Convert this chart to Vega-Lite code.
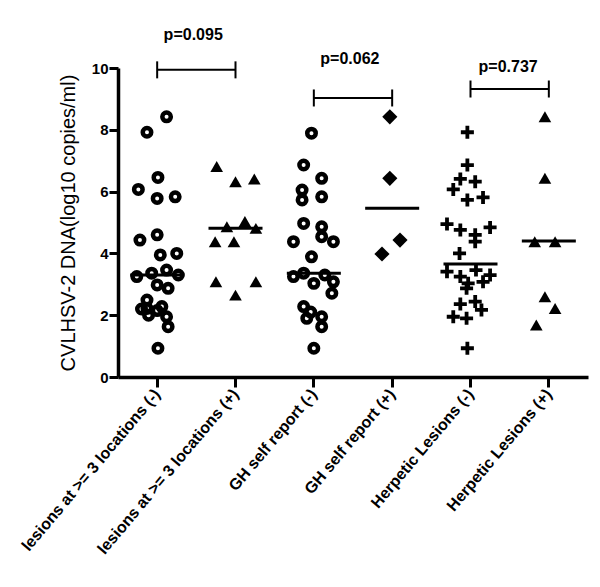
{
  "$schema": "https://vega.github.io/schema/vega-lite/v6.json",
  "autosize": {"type": "none"},
  "padding": {"left": 118, "top": 68, "right": 12, "bottom": 210},
  "width": 470,
  "height": 309,
  "background": "white",
  "config": {
    "view": {"stroke": null},
    "font": "Liberation Sans",
    "axis": {
      "grid": false,
      "domainColor": "black",
      "domainWidth": 3.5,
      "tickColor": "black",
      "tickWidth": 3,
      "labelFont": "Liberation Sans",
      "labelFontWeight": "bold",
      "labelColor": "black",
      "titleFont": "Liberation Sans",
      "titleColor": "black"
    }
  },
  "datasets": {
    "points": [
      {"group": "lesions at >= 3 locations (-)", "dx": 0.12, "v": 8.42},
      {"group": "lesions at >= 3 locations (-)", "dx": -0.13, "v": 7.92},
      {"group": "lesions at >= 3 locations (-)", "dx": 0.01, "v": 6.46},
      {"group": "lesions at >= 3 locations (-)", "dx": -0.24, "v": 6.07},
      {"group": "lesions at >= 3 locations (-)", "dx": 0.0, "v": 5.78},
      {"group": "lesions at >= 3 locations (-)", "dx": 0.23, "v": 5.83},
      {"group": "lesions at >= 3 locations (-)", "dx": -0.22, "v": 4.43},
      {"group": "lesions at >= 3 locations (-)", "dx": 0.0, "v": 4.6},
      {"group": "lesions at >= 3 locations (-)", "dx": 0.04, "v": 3.95},
      {"group": "lesions at >= 3 locations (-)", "dx": 0.25, "v": 4.0},
      {"group": "lesions at >= 3 locations (-)", "dx": -0.26, "v": 3.25},
      {"group": "lesions at >= 3 locations (-)", "dx": -0.07, "v": 3.36},
      {"group": "lesions at >= 3 locations (-)", "dx": 0.12, "v": 3.46},
      {"group": "lesions at >= 3 locations (-)", "dx": 0.27, "v": 3.3},
      {"group": "lesions at >= 3 locations (-)", "dx": 0.0, "v": 2.98},
      {"group": "lesions at >= 3 locations (-)", "dx": 0.14, "v": 2.87},
      {"group": "lesions at >= 3 locations (-)", "dx": -0.13, "v": 2.49},
      {"group": "lesions at >= 3 locations (-)", "dx": -0.13, "v": 2.22},
      {"group": "lesions at >= 3 locations (-)", "dx": -0.11, "v": 2.0},
      {"group": "lesions at >= 3 locations (-)", "dx": 0.06, "v": 2.28},
      {"group": "lesions at >= 3 locations (-)", "dx": 0.12, "v": 1.95},
      {"group": "lesions at >= 3 locations (-)", "dx": 0.14, "v": 1.63},
      {"group": "lesions at >= 3 locations (-)", "dx": -0.2, "v": 2.2},
      {"group": "lesions at >= 3 locations (-)", "dx": 0.0, "v": 2.15},
      {"group": "lesions at >= 3 locations (-)", "dx": 0.01, "v": 0.93},
      {"group": "lesions at >= 3 locations (+)", "dx": -0.24, "v": 6.81},
      {"group": "lesions at >= 3 locations (+)", "dx": 0.0, "v": 6.32},
      {"group": "lesions at >= 3 locations (+)", "dx": 0.24, "v": 6.41},
      {"group": "lesions at >= 3 locations (+)", "dx": -0.11, "v": 4.86},
      {"group": "lesions at >= 3 locations (+)", "dx": 0.12, "v": 5.03},
      {"group": "lesions at >= 3 locations (+)", "dx": 0.26, "v": 4.81},
      {"group": "lesions at >= 3 locations (+)", "dx": -0.26, "v": 4.38},
      {"group": "lesions at >= 3 locations (+)", "dx": -0.02, "v": 4.38},
      {"group": "lesions at >= 3 locations (+)", "dx": -0.25, "v": 3.08},
      {"group": "lesions at >= 3 locations (+)", "dx": 0.26, "v": 3.08},
      {"group": "lesions at >= 3 locations (+)", "dx": 0.0, "v": 2.65},
      {"group": "GH self report (-)", "dx": -0.03, "v": 7.89},
      {"group": "GH self report (-)", "dx": -0.13, "v": 6.86},
      {"group": "GH self report (-)", "dx": 0.1, "v": 6.43},
      {"group": "GH self report (-)", "dx": -0.15, "v": 6.05},
      {"group": "GH self report (-)", "dx": 0.1, "v": 5.83},
      {"group": "GH self report (-)", "dx": -0.15, "v": 5.73},
      {"group": "GH self report (-)", "dx": -0.13, "v": 4.97},
      {"group": "GH self report (-)", "dx": 0.1, "v": 4.86},
      {"group": "GH self report (-)", "dx": -0.26, "v": 4.38},
      {"group": "GH self report (-)", "dx": 0.1, "v": 4.54},
      {"group": "GH self report (-)", "dx": 0.25, "v": 4.38},
      {"group": "GH self report (-)", "dx": -0.03, "v": 3.89},
      {"group": "GH self report (-)", "dx": -0.26, "v": 3.25},
      {"group": "GH self report (-)", "dx": -0.13, "v": 3.36},
      {"group": "GH self report (-)", "dx": 0.0, "v": 3.03},
      {"group": "GH self report (-)", "dx": 0.25, "v": 3.08},
      {"group": "GH self report (-)", "dx": 0.14, "v": 3.3},
      {"group": "GH self report (-)", "dx": 0.23, "v": 2.71},
      {"group": "GH self report (-)", "dx": -0.13, "v": 2.28},
      {"group": "GH self report (-)", "dx": -0.04, "v": 2.1},
      {"group": "GH self report (-)", "dx": -0.09, "v": 1.9},
      {"group": "GH self report (-)", "dx": 0.1, "v": 1.95},
      {"group": "GH self report (-)", "dx": 0.1, "v": 1.63},
      {"group": "GH self report (-)", "dx": 0.0, "v": 0.93},
      {"group": "GH self report (+)", "dx": -0.03, "v": 8.42},
      {"group": "GH self report (+)", "dx": -0.03, "v": 6.43},
      {"group": "GH self report (+)", "dx": 0.1, "v": 4.43},
      {"group": "GH self report (+)", "dx": -0.13, "v": 3.98},
      {"group": "Herpetic Lesions (-)", "dx": -0.04, "v": 7.92},
      {"group": "Herpetic Lesions (-)", "dx": -0.04, "v": 6.86},
      {"group": "Herpetic Lesions (-)", "dx": -0.13, "v": 6.41},
      {"group": "Herpetic Lesions (-)", "dx": 0.06, "v": 6.32},
      {"group": "Herpetic Lesions (-)", "dx": -0.22, "v": 6.07},
      {"group": "Herpetic Lesions (-)", "dx": -0.04, "v": 5.73},
      {"group": "Herpetic Lesions (-)", "dx": 0.16, "v": 5.81},
      {"group": "Herpetic Lesions (-)", "dx": -0.3, "v": 4.95},
      {"group": "Herpetic Lesions (-)", "dx": -0.13, "v": 4.76},
      {"group": "Herpetic Lesions (-)", "dx": 0.25, "v": 4.84},
      {"group": "Herpetic Lesions (-)", "dx": 0.06, "v": 4.6},
      {"group": "Herpetic Lesions (-)", "dx": 0.06, "v": 4.38},
      {"group": "Herpetic Lesions (-)", "dx": -0.14, "v": 4.0},
      {"group": "Herpetic Lesions (-)", "dx": -0.3, "v": 3.41},
      {"group": "Herpetic Lesions (-)", "dx": -0.13, "v": 3.25},
      {"group": "Herpetic Lesions (-)", "dx": 0.07, "v": 3.46},
      {"group": "Herpetic Lesions (-)", "dx": 0.25, "v": 3.3},
      {"group": "Herpetic Lesions (-)", "dx": -0.03, "v": 3.03},
      {"group": "Herpetic Lesions (-)", "dx": 0.16, "v": 3.08},
      {"group": "Herpetic Lesions (-)", "dx": -0.05, "v": 2.87},
      {"group": "Herpetic Lesions (-)", "dx": -0.13, "v": 2.36},
      {"group": "Herpetic Lesions (-)", "dx": 0.06, "v": 2.44},
      {"group": "Herpetic Lesions (-)", "dx": 0.14, "v": 2.17},
      {"group": "Herpetic Lesions (-)", "dx": -0.22, "v": 1.95},
      {"group": "Herpetic Lesions (-)", "dx": -0.05, "v": 1.9},
      {"group": "Herpetic Lesions (-)", "dx": -0.04, "v": 0.93},
      {"group": "Herpetic Lesions (+)", "dx": -0.05, "v": 8.42},
      {"group": "Herpetic Lesions (+)", "dx": -0.05, "v": 6.43},
      {"group": "Herpetic Lesions (+)", "dx": -0.18, "v": 4.38},
      {"group": "Herpetic Lesions (+)", "dx": 0.08, "v": 4.38},
      {"group": "Herpetic Lesions (+)", "dx": -0.05, "v": 2.6},
      {"group": "Herpetic Lesions (+)", "dx": 0.08, "v": 2.22},
      {"group": "Herpetic Lesions (+)", "dx": -0.16, "v": 1.68}
    ],
    "medians": [
      {"group": "lesions at >= 3 locations (-)", "m": 3.3},
      {"group": "lesions at >= 3 locations (+)", "m": 4.81},
      {"group": "GH self report (-)", "m": 3.36},
      {"group": "GH self report (+)", "m": 5.46},
      {"group": "Herpetic Lesions (-)", "m": 3.66},
      {"group": "Herpetic Lesions (+)", "m": 4.4}
    ],
    "brackets": [
      {"from": "lesions at >= 3 locations (-)", "to": "lesions at >= 3 locations (+)", "y": 9.94, "label": "p=0.095", "ty": 11.07, "toff": 0.46},
      {"from": "GH self report (-)", "to": "GH self report (+)", "y": 9.03, "label": "p=0.062", "ty": 10.29, "toff": 0.46},
      {"from": "Herpetic Lesions (-)", "to": "Herpetic Lesions (+)", "y": 9.32, "label": "p=0.737", "ty": 10.03, "toff": 0.48}
    ]
  },
  "layer": [
    {
      "data": {"name": "medians"},
      "mark": {"type": "tick", "orient": "horizontal", "size": 54, "thickness": 3, "color": "black", "opacity": 1},
      "encoding": {
        "x": {"field": "group", "type": "nominal", "title": null,
          "scale": {"type": "band", "paddingInner": 0, "paddingOuter": 0,
            "domain": ["lesions at >= 3 locations (-)", "lesions at >= 3 locations (+)", "GH self report (-)", "GH self report (+)", "Herpetic Lesions (-)", "Herpetic Lesions (+)"]},
          "axis": {"labelAngle": -50, "labelAlign": "right", "labelBaseline": "middle", "labelFontSize": 16, "tickSize": 10, "labelPadding": 4, "labelLimit": 400}},
        "y": {"field": "m", "type": "quantitative", "title": "CVLHSV-2 DNA(log10 copies/ml)",
          "scale": {"domain": [0, 10], "nice": false},
          "axis": {"values": [0, 2, 4, 6, 8, 10], "tickSize": 9, "labelFontSize": 15, "labelPadding": 1, "titleFontSize": 20, "titleFontWeight": "normal", "titlePadding": 13}}
      }
    },
    {
      "data": {"name": "points"},
      "transform": [{"filter": {"field": "group", "oneOf": ["lesions at >= 3 locations (-)", "GH self report (-)"]}}],
      "mark": {"type": "point", "shape": "circle", "filled": false, "size": 72, "strokeWidth": 4.5, "color": "black", "opacity": 1},
      "encoding": {
        "x": {"field": "group", "type": "nominal"},
        "xOffset": {"field": "dx", "type": "quantitative", "scale": {"domain": [-0.5, 0.5], "nice": false, "zero": false}},
        "y": {"field": "v", "type": "quantitative"}
      }
    },
    {
      "data": {"name": "points"},
      "transform": [{"filter": {"field": "group", "oneOf": ["lesions at >= 3 locations (+)", "Herpetic Lesions (+)"]}}],
      "mark": {"type": "point", "shape": "triangle-up", "filled": true, "size": 160, "color": "black", "opacity": 1},
      "encoding": {
        "x": {"field": "group", "type": "nominal"},
        "xOffset": {"field": "dx", "type": "quantitative"},
        "y": {"field": "v", "type": "quantitative"}
      }
    },
    {
      "data": {"name": "points"},
      "transform": [{"filter": {"field": "group", "equal": "GH self report (+)"}}],
      "mark": {"type": "point", "shape": "diamond", "filled": true, "size": 230, "color": "black", "opacity": 1},
      "encoding": {
        "x": {"field": "group", "type": "nominal"},
        "xOffset": {"field": "dx", "type": "quantitative"},
        "y": {"field": "v", "type": "quantitative"}
      }
    },
    {
      "data": {"name": "points"},
      "transform": [{"filter": {"field": "group", "equal": "Herpetic Lesions (-)"}}],
      "mark": {"type": "point", "shape": "M-1,0H1M0,-1V1", "filled": false, "size": 170, "strokeWidth": 3.8, "color": "black", "opacity": 1},
      "encoding": {
        "x": {"field": "group", "type": "nominal"},
        "xOffset": {"field": "dx", "type": "quantitative"},
        "y": {"field": "v", "type": "quantitative"}
      }
    },
    {
      "data": {"name": "brackets"},
      "mark": {"type": "rule", "strokeWidth": 2, "color": "black"},
      "encoding": {
        "x": {"field": "from", "type": "nominal"},
        "x2": {"field": "to"},
        "y": {"field": "y", "type": "quantitative"}
      }
    },
    {
      "data": {"name": "brackets"},
      "mark": {"type": "tick", "orient": "vertical", "size": 17, "thickness": 2, "color": "black", "opacity": 1},
      "encoding": {
        "x": {"field": "from", "type": "nominal"},
        "y": {"field": "y", "type": "quantitative"}
      }
    },
    {
      "data": {"name": "brackets"},
      "mark": {"type": "tick", "orient": "vertical", "size": 17, "thickness": 2, "color": "black", "opacity": 1},
      "encoding": {
        "x": {"field": "to", "type": "nominal"},
        "y": {"field": "y", "type": "quantitative"}
      }
    },
    {
      "data": {"name": "brackets"},
      "mark": {"type": "text", "font": "Liberation Sans", "fontWeight": "bold", "fontSize": 16, "align": "center", "baseline": "middle", "color": "black"},
      "encoding": {
        "x": {"field": "from", "type": "nominal"},
        "xOffset": {"field": "toff", "type": "quantitative"},
        "y": {"field": "ty", "type": "quantitative"},
        "text": {"field": "label"}
      }
    }
  ]
}
